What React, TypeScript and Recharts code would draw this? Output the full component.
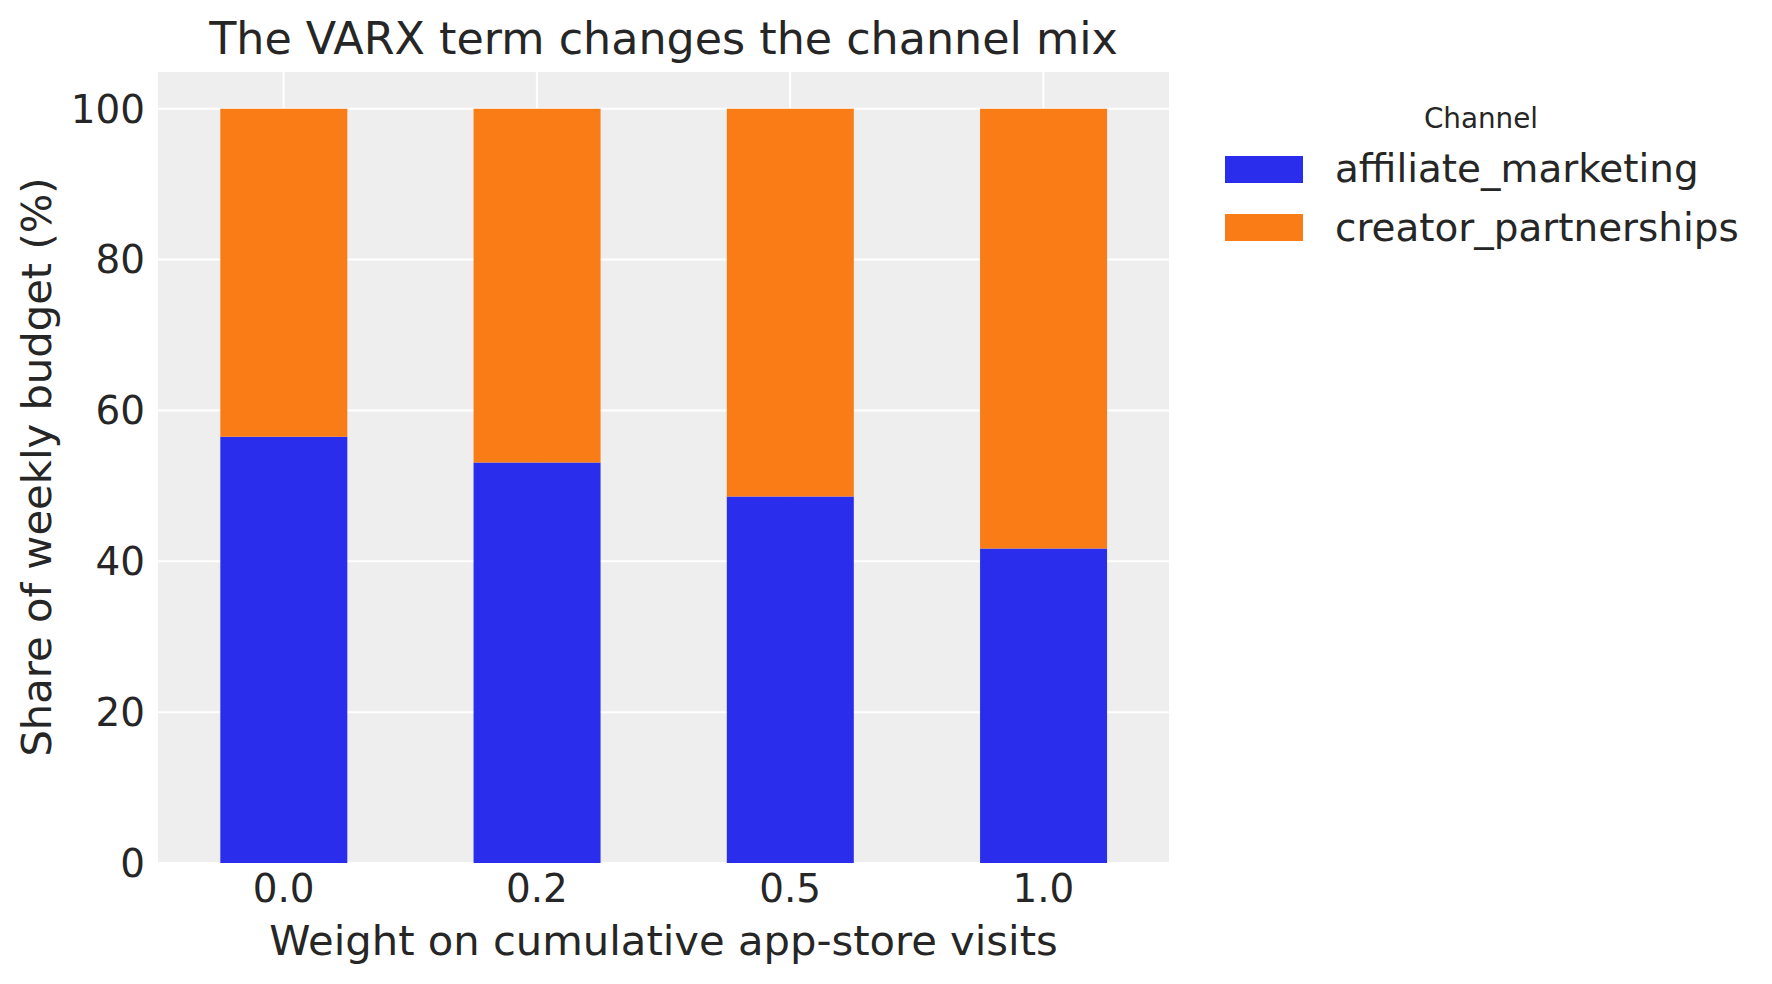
import {Bar, BarChart, CartesianGrid, Label, Legend, XAxis, YAxis} from "recharts";

const weights = ["0.0", "0.2", "0.5", "1.0"];
const affiliateShare = [56.5, 53.1, 48.6, 41.7];
const creatorShare = [43.5, 46.9, 51.4, 58.3];
const yTicks = [0, 20, 40, 60, 80, 100];

const COLORS = {
    affiliate_marketing: "#2a2eec",
    creator_partnerships: "#fa7c17",
};

const FONT = "DejaVu Sans";
const TEXT = "#262626";

const chartData = weights.map((w, i) => ({
    weight: w,
    affiliate_marketing: affiliateShare[i],
    creator_partnerships: creatorShare[i],
}));

function ChannelLegend({payload}: {payload?: any[]}) {
    const items = payload ?? [];
    return (
        <svg width={592} height={200} style={{display: "block"}}>
            <text x={301} y={48} textAnchor="middle" fontSize={27.8} fontFamily={FONT} fill={TEXT}>
                Channel
            </text>
            {items.map((entry, i) => (
                <g key={entry.value}>
                    <rect x={45} y={76 + i * 58} width={78} height={27} fill={entry.color} />
                    <text x={155} y={102 + i * 58.5} fontSize={38.9} fontFamily={FONT} fill={TEXT}>
                        {entry.value}
                    </text>
                </g>
            ))}
        </svg>
    );
}

function App() {
    return (
        <div style={{position: "absolute", left: 0, top: 0, width: 1772, height: 984, background: "#fff"}}>
            <svg width={1772} height={80} style={{position: "absolute", left: 0, top: 0, zIndex: 2}}>
                <text x={663.5} y={54} textAnchor="middle" fontSize={44.4} fontFamily={FONT} fill={TEXT}>
                    The VARX term changes the channel mix
                </text>
            </svg>
            <BarChart
                width={1772}
                height={984}
                data={chartData}
                margin={{top: 71, right: 602, bottom: 0, left: 0}}
                barCategoryGap="25%"
            >
                <CartesianGrid fill="#eeeeee" stroke="#ffffff" strokeWidth={2} />
                <XAxis
                    dataKey="weight"
                    height={121}
                    axisLine={false}
                    tickLine={false}
                    tickSize={0}
                    tickMargin={11}
                    tick={{fontSize: 38.9, fontFamily: FONT, fill: TEXT}}
                >
                    <Label
                        content={() => (
                            <text x={663.5} y={955} textAnchor="middle" fontSize={41.7} fontFamily={FONT} fill={TEXT}>
                                Weight on cumulative app-store visits
                            </text>
                        )}
                    />
                </XAxis>
                <YAxis
                    type="number"
                    domain={[0, 105]}
                    ticks={yTicks}
                    width={157}
                    axisLine={false}
                    tickLine={false}
                    tickSize={0}
                    tickMargin={12}
                    tick={{fontSize: 38.9, fontFamily: FONT, fill: TEXT}}
                >
                    <Label
                        content={() => (
                            <text
                                x={51}
                                y={467}
                                transform="rotate(-90 51 467)"
                                textAnchor="middle"
                                fontSize={41.7}
                                fontFamily={FONT}
                                fill={TEXT}
                            >
                                Share of weekly budget (%)
                            </text>
                        )}
                    />
                </YAxis>
                <Legend
                    layout="vertical"
                    align="center"
                    verticalAlign="middle"
                    wrapperStyle={{left: 1180, top: 80, width: 592, height: 200}}
                    content={(props: any) => <ChannelLegend payload={props.payload} />}
                />
                <Bar
                    dataKey="affiliate_marketing"
                    name="affiliate_marketing"
                    stackId="share"
                    fill={COLORS.affiliate_marketing}
                    isAnimationActive={false}
                />
                <Bar
                    dataKey="creator_partnerships"
                    name="creator_partnerships"
                    stackId="share"
                    fill={COLORS.creator_partnerships}
                    isAnimationActive={false}
                />
            </BarChart>
        </div>
    );
}

export default App;
